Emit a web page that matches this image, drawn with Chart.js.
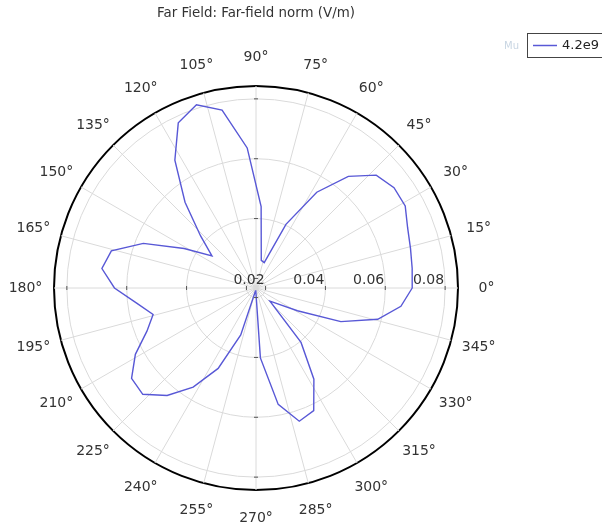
<!DOCTYPE html>
<html>
<head>
<meta charset="utf-8">
<title>Far Field</title>
<script src="https://cdn.jsdelivr.net/npm/chart.js@4.4.1/dist/chart.umd.min.js"></script>
<style>
  html, body { margin: 0; padding: 0; background: #fff; }
</style>
</head>
<body>
<canvas id="farField" width="602" height="526"></canvas>
<script>
// far-field norm sampled every 7.2 degrees
const phiDeg = [0, 7.2, 14.4, 21.6, 28.8, 36, 43.2, 50.4, 57.6, 64.8,
  72, 79.2, 86.4, 93.6, 100.8, 108, 115.2, 122.4, 129.6, 136.8,
  144, 151.2, 158.4, 165.6, 172.8, 180, 187.2, 194.4, 201.6, 208.8,
  216, 223.2, 230.4, 237.6, 244.8, 252, 259.2, 266.4, 273.6, 280.8,
  288, 295.2, 302.4, 309.6, 316.8, 324, 331.2, 338.4, 345.6, 352.8];
const normE = [0.0690, 0.0694, 0.0701, 0.0713, 0.0737, 0.0738, 0.0719, 0.0652, 0.0547, 0.0403,
  0.0257, 0.0262, 0.0441, 0.0637, 0.0773, 0.0812, 0.0778, 0.0674, 0.0540, 0.0422,
  0.0350, 0.0442, 0.0573, 0.0667, 0.0687, 0.0641, 0.0570, 0.0523, 0.0560, 0.0628,
  0.0682, 0.0687, 0.0634, 0.0560, 0.0465, 0.0333, 0.0178, 0.0178, 0.0402, 0.0564,
  0.0636, 0.0621, 0.0529, 0.0404, 0.0232, 0.0258, 0.0326, 0.0473, 0.0588, 0.0656];
const seriesLabel = '4.2e9';

const angleTicks = [0, 15, 30, 45, 60, 75, 90, 105, 120, 135, 150, 165,
  180, 195, 210, 225, 240, 255, 270, 285, 300, 315, 330, 345];
const radialTicks = [0.02, 0.04, 0.06, 0.08];
const rMin = 0.0168;
const rMax = 0.0843;

const FONT = '"DejaVu Sans", sans-serif';
const lineColor = '#5858d6';
const gridColor = '#dadada';

// radar spokes on a fine 0.6 degree grid so both 7.2 and 15 degree steps land on a spoke
const RES = 0.6;
const N = Math.round(360 / RES);
const idxFor = a => Math.round(((360 - a) % 360) / RES) % N;

const gridLabels = new Array(N).fill('');
angleTicks.forEach(t => { gridLabels[idxFor(t)] = t + '\u00b0'; });

const gridData = new Array(N).fill(null);
phiDeg.forEach((a, k) => { gridData[idxFor(a)] = normE[k]; });

const overlay = {
  id: 'overlay',
  afterDraw(chart) {
    const { ctx } = chart;
    const r = chart.scales.r;
    ctx.save();

    // short marks on the four axes
    ctx.strokeStyle = '#555';
    ctx.lineWidth = 1;
    [0, 90, 180, 270].forEach(a => {
      radialTicks.forEach(v => {
        const p = r.getPointPositionForValue(idxFor(a), v);
        const px = -Math.sin(p.angle), py = Math.cos(p.angle);
        ctx.beginPath();
        ctx.moveTo(p.x - 2 * px, p.y - 2 * py);
        ctx.lineTo(p.x + 2 * px, p.y + 2 * py);
        ctx.stroke();
      });
    });

    // angle labels, centred on a ring outside the border
    ctx.fillStyle = '#333';
    ctx.font = '14px ' + FONT;
    ctx.textAlign = 'center';
    ctx.textBaseline = 'middle';
    angleTicks.forEach(t => {
      const p = r.getPointPosition(idxFor(t), r.drawingArea + 28.5);
      ctx.fillText(t + '\u00b0', p.x, p.y);
    });

    // radial tick labels along 0 degrees
    ctx.textAlign = 'right';
    ctx.textBaseline = 'alphabetic';
    radialTicks.forEach(v => {
      const p = r.getPointPositionForValue(idxFor(0), v);
      ctx.fillText(v.toFixed(2), p.x - 1, p.y - 4.5);
    });

    // legend
    const ds = chart.data.datasets[0];
    ctx.fillStyle = '#c9d6e3';
    ctx.font = '10px ' + FONT;
    ctx.textAlign = 'left';
    ctx.textBaseline = 'middle';
    ctx.fillText('Mu', 504, 46);
    ctx.fillStyle = '#fff';
    ctx.fillRect(527, 33, 80, 25);
    ctx.strokeStyle = '#444';
    ctx.lineWidth = 1;
    ctx.strokeRect(527.5, 33.5, 90, 24);
    ctx.strokeStyle = ds.borderColor;
    ctx.lineWidth = 1.5;
    ctx.beginPath();
    ctx.moveTo(533, 45.5);
    ctx.lineTo(557, 45.5);
    ctx.stroke();
    ctx.fillStyle = '#222';
    ctx.font = '13px ' + FONT;
    ctx.fillText(ds.label, 562, 46);
    ctx.restore();
  }
};

const lastTick = radialTicks.length + 1;

new Chart(document.getElementById('farField'), {
  type: 'radar',
  data: {
    labels: gridLabels,
    datasets: [{
      label: seriesLabel,
      data: gridData,
      borderColor: lineColor,
      borderWidth: 1.4,
      pointRadius: 0,
      pointHoverRadius: 0,
      fill: false,
      spanGaps: true,
      tension: 0
    }]
  },
  options: {
    responsive: false,
    animation: false,
    layout: { padding: { left: 54, right: 144, top: 0, bottom: 36 } },
    plugins: {
      legend: { display: false },
      tooltip: { enabled: false },
      title: {
        display: true,
        text: 'Far Field: Far-field norm (V/m)',
        color: '#333',
        font: { family: FONT, size: 13.4, weight: 'normal' },
        padding: { top: 5, bottom: 64.92 }
      }
    },
    scales: {
      r: {
        min: rMin,
        max: rMax,
        startAngle: 90,
        afterBuildTicks: s => {
          s.ticks = [rMin, ...radialTicks, rMax].map(v => ({ value: v }));
        },
        ticks: { display: false },
        grid: {
          circular: true,
          color: c => c.index === lastTick ? '#000' : gridColor,
          lineWidth: c => c.index === lastTick ? 2 : 1
        },
        angleLines: {
          color: gridColor,
          lineWidth: c => c.label ? 1 : 0
        },
        pointLabels: { display: false }
      }
    }
  },
  plugins: [overlay]
});
</script>
</body>
</html>
